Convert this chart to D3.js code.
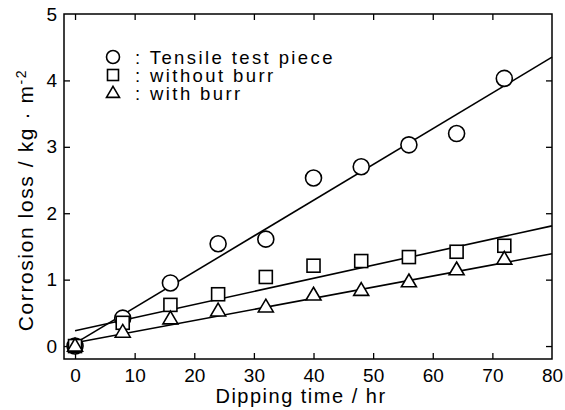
<!DOCTYPE html>
<html><head><meta charset="utf-8">
<script src="https://cdn.jsdelivr.net/npm/d3@7/dist/d3.min.js"></script>
<style>body{margin:0;background:#fff}svg{display:block}text{font-family:"Liberation Sans",Arial,sans-serif;fill:#000}</style>
</head><body>
<script>
const times = [0, 8, 16, 24, 32, 40, 48, 56, 64, 72];
const tensile = [0.0, 0.42, 0.95, 1.54, 1.61, 2.53, 2.70, 3.03, 3.20, 4.03];
const withoutBurr = [0.0, 0.35, 0.62, 0.78, 1.04, 1.21, 1.28, 1.34, 1.42, 1.51];
const withBurr = [0.0, 0.21, 0.41, 0.53, 0.59, 0.77, 0.84, 0.97, 1.15, 1.31];
// fitted straight lines: [time, value] at start and end
const fitTensile = [[0, 0.04], [80, 4.35]];
const fitWithout = [[0, 0.23], [80, 1.81]];
const fitWith = [[0, 0.05], [80, 1.39]];
const xTicks = [0, 10, 20, 30, 40, 50, 60, 70, 80];
const yTicks = [0, 1, 2, 3, 4, 5];
const legendLabels = [": Tensile test piece", ": without burr", ": with burr"];

const W = 565, H = 410;
const svg = d3.select("body").append("svg").attr("width", W).attr("height", H);
const L = 64, R = 552, T = 14, B = 359;
const x = d3.scaleLinear().domain([-1.85, 80]).range([L, R]);
const y = d3.scaleLinear().domain([-0.195, 5]).range([B, T]);

const g = svg.append("g");
g.append("rect").attr("x", L).attr("y", T).attr("width", R - L).attr("height", B - T)
  .attr("fill", "none").attr("stroke", "#000").attr("stroke-width", 1.5);

const tk = 6;
const xb = g.append("g").attr("transform", `translate(0,${B})`)
  .call(d3.axisBottom(x).tickValues(xTicks).tickSizeInner(-tk).tickSizeOuter(0).tickPadding(10).tickFormat(d3.format("d")));
const xt = g.append("g").attr("transform", `translate(0,${T})`)
  .call(d3.axisTop(x).tickValues(xTicks.filter(v => v < 80)).tickSizeInner(-tk).tickSizeOuter(0).tickFormat(""));
const yl = g.append("g").attr("transform", `translate(${L},0)`)
  .call(d3.axisLeft(y).tickValues(yTicks).tickSizeInner(-tk).tickSizeOuter(0).tickPadding(7).tickFormat(d3.format("d")));
const yr = g.append("g").attr("transform", `translate(${R},0)`)
  .call(d3.axisRight(y).tickValues(yTicks.filter(v => v < 5)).tickSizeInner(-tk).tickSizeOuter(0).tickFormat(""));
[xb, xt, yl, yr].forEach(a => {
  a.select(".domain").remove();
  a.selectAll("line").attr("stroke", "#000").attr("stroke-width", 1.3);
  a.selectAll("text").style("font-size", "19px").style("font-family", '"Liberation Sans",Arial,sans-serif').attr("fill", "#000");
});
xb.selectAll(".tick").filter(d => d === 80).select("line").remove();
yl.selectAll(".tick").filter(d => d === 5).select("line").remove();
xb.selectAll("text").attr("dy", "0.71em");

// axis titles
svg.append("text").attr("x", 301).attr("y", 403).attr("text-anchor", "middle")
  .style("font-size", "20px").style("letter-spacing", "1.5px").text("Dipping time / hr");
const yt = svg.append("text").attr("transform", `translate(33,200) rotate(-90)`)
  .attr("text-anchor", "middle").style("font-size", "21px").style("letter-spacing", "1.6px");
yt.append("tspan").text("Corrosion loss / kg \u00B7 m");
yt.append("tspan").attr("dy", "-0.5em").style("font-size", "14px").text("-2");

// fitted lines
const line = d3.line().x(d => x(d[0])).y(d => y(d[1]));
[fitTensile, fitWithout, fitWith].forEach(f => {
  g.append("path").attr("d", line(f)).attr("fill", "none").attr("stroke", "#000").attr("stroke-width", 1.6);
});

// markers
const sw = 1.6;
function circle(sel, cx, cy, r) {
  sel.append("circle").attr("cx", cx).attr("cy", cy).attr("r", r)
    .attr("fill", "#fff").attr("stroke", "#000").attr("stroke-width", sw);
}
function square(sel, cx, cy, s) {
  sel.append("rect").attr("x", cx - s / 2).attr("y", cy - s / 2).attr("width", s).attr("height", s)
    .attr("fill", "#fff").attr("stroke", "#000").attr("stroke-width", sw);
}
function tri(sel, cx, cy, s) {
  const h = s * 0.85;
  sel.append("path").attr("d", `M${cx},${cy - h * 0.6}L${cx + s / 2},${cy + h * 0.4}L${cx - s / 2},${cy + h * 0.4}Z`)
    .attr("fill", "#fff").attr("stroke", "#000").attr("stroke-width", sw);
}
const mk = g.append("g");
times.forEach((t, i) => circle(mk, x(t), y(tensile[i]), 8));
times.forEach((t, i) => square(mk, x(t), y(withoutBurr[i]), 13));
times.forEach((t, i) => tri(mk, x(t), y(withBurr[i]), 15));

// legend
const lg = svg.append("g");
const ly = [57, 75, 93];
circle(lg, 113, ly[0], 6.5);
square(lg, 113, ly[1], 11);
tri(lg, 113, ly[2], 13);
legendLabels.forEach((s, i) => {
  lg.append("text").attr("x", 135).attr("y", ly[i] + 6.5).style("font-size", "18.5px").style("letter-spacing", "2.4px").text(s);
});
</script>
</body></html>
